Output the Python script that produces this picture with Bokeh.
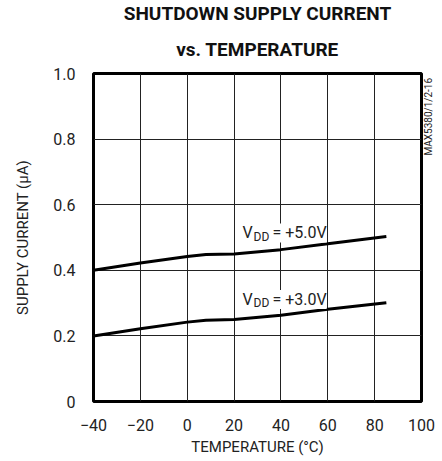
import math
from bokeh.plotting import figure
from bokeh.models import Range1d, FixedTicker, Label, LinearAxis, Title
from bokeh.embed import file_html
from bokeh.resources import INLINE

# ---- data ----
temperature = [-40, -20, 0, 8, 20, 40, 60, 85]
current_5v = [0.400, 0.422, 0.442, 0.448, 0.450, 0.463, 0.481, 0.503]
current_3v = [0.200, 0.222, 0.242, 0.248, 0.250, 0.263, 0.281, 0.301]
x_ticks = [-40, -20, 0, 20, 40, 60, 80, 100]
y_ticks = [0, 0.2, 0.4, 0.6, 0.8, 1.0]
y_tick_labels = ["0", "0.2", "0.4", "0.6", "0.8", "1.0"]
title_lines = ["SHUTDOWN SUPPLY CURRENT", "vs. TEMPERATURE"]
part_number = "MAX5380/1/2-16"

FONT = "Roboto"

p = figure(width=442, height=461, output_backend="svg", toolbar_location=None,
           x_range=Range1d(-40, 100), y_range=Range1d(0, 1.0),
           min_border_left=93, min_border_right=19, min_border_top=73, min_border_bottom=60)

p.title.text = title_lines[0]
p.title.text_font = FONT
p.title.text_font_size = "19px"
p.title.text_font_style = "bold"
p.title.align = "center"
p.title.text_color = "#111111"
p.title.standoff = -5
p.add_layout(Title(text=title_lines[1], text_font=FONT, text_font_size="19px",
                   text_font_style="bold", align="center", text_color="#111111",
                   standoff=26), "above")

p.outline_line_color = "black"
p.outline_line_width = 3

for ax in (p.xaxis[0], p.yaxis[0]):
    ax.axis_line_color = None
    ax.major_tick_line_color = None
    ax.minor_tick_line_color = None
    ax.major_tick_out = 0
    ax.major_tick_in = 0
    ax.minor_tick_out = 0
    ax.minor_tick_in = 0
    ax.major_label_text_font = FONT
    ax.major_label_text_font_size = "16px"
    ax.major_label_text_color = "#222222"
    ax.axis_label_text_font = FONT
    ax.axis_label_text_font_size = "15px"
    ax.axis_label_text_font_style = "normal"
    ax.axis_label_text_color = "#222222"

p.xaxis.ticker = FixedTicker(ticks=x_ticks)
p.yaxis.ticker = FixedTicker(ticks=y_ticks)
p.yaxis.major_label_overrides = {t: s for t, s in zip(y_ticks, y_tick_labels)}
p.xaxis.major_label_standoff = 17
p.yaxis.major_label_standoff = 18
p.xaxis.axis_label = "TEMPERATURE (°C)"
p.yaxis.axis_label = "SUPPLY CURRENT (µA)"
p.xaxis.axis_label_standoff = 4
p.yaxis.axis_label_standoff = 18

# part number, written vertically just right of the frame
right_ax = LinearAxis(ticker=FixedTicker(ticks=[0.75]),
                      major_label_overrides={0.75: part_number},
                      major_label_orientation=math.pi / 2,
                      axis_line_color=None, major_tick_line_color=None,
                      minor_tick_line_color=None, major_tick_out=0, major_tick_in=0,
                      minor_tick_out=0, minor_tick_in=0, major_label_standoff=7,
                      major_label_text_font=FONT, major_label_text_font_size="10px",
                      major_label_text_color="#222222")
p.add_layout(right_ax, "right")

p.xgrid.ticker = FixedTicker(ticks=x_ticks)
p.ygrid.ticker = FixedTicker(ticks=y_ticks)
for g in (p.xgrid[0], p.ygrid[0]):
    g.grid_line_color = "#222222"
    g.grid_line_width = 1

p.line(temperature, current_5v, line_color="black", line_width=3)
p.line(temperature, current_3v, line_color="black", line_width=3)

def vdd_label(y_base, volts):
    p.add_layout(Label(x=23.6, y=y_base, text="V", text_font=FONT, text_font_size="16px",
                       text_color="#222222", text_baseline="alphabetic"))
    p.add_layout(Label(x=23.6, y=y_base, x_offset=11, y_offset=-4, text="DD", text_font=FONT,
                       text_font_size="12px", text_color="#222222", text_baseline="alphabetic"))
    p.add_layout(Label(x=36.4, y=y_base, text="= +%s" % volts, text_font=FONT,
                       text_font_size="16px", text_color="#222222", text_baseline="alphabetic",
                       background_fill_color="white"))

vdd_label(0.514, "5.0V")
vdd_label(0.311, "3.0V")

open("out.html", "w").write(file_html(p, INLINE))
